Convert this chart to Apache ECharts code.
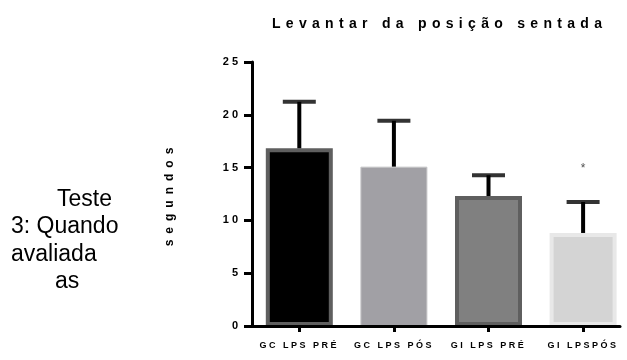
<!DOCTYPE html>
<html>
<head>
<meta charset="utf-8">
<script src="https://cdn.jsdelivr.net/npm/echarts@6/dist/echarts.min.js"></script>
<style>
html,body{margin:0;padding:0;background:#fff;}
#c{width:627px;height:360px;}
</style>
</head>
<body>
<div id="c"></div>
<script>
// ---- data ----
const categories = ['GC LPS PRÉ', 'GC LPS PÓS', 'GI LPS PRÉ', 'GI LPSPÓS'];
const means = [16.83, 15.09, 12.31, 8.81];
const errUpper = [4.40, 4.34, 1.97, 2.93];
const yTicks = [0, 5, 10, 15, 20, 25];
const significance = ['', '', '', '*'];
const sigValue = [null, null, null, 14.9];
const chartTitle = 'Levantar da posição sentada';
const yName = 'segundos';
const sideLines = ['Teste', '3: Quando', 'avaliada', 'as'];

// ---- styles ----
const barFill = ['#000000', '#a1a0a5', '#808080', '#d4d4d4'];
const barBorder = ['#5f5f5f', '#c4c4c6', '#5f5f5f', '#e8e8e8'];
const barBorderW = [4, 1, 4, 4];
const sidePos = [[57, 205], [11, 232.5], [11, 260], [55, 287]];

// letter spacing for the spaced-out texts (canvas letterSpacing)
const spacingMap = {};
spacingMap[chartTitle] = 5.3;
spacingMap[yName] = 6;
categories.forEach(c => spacingMap[c] = 2.5);
yTicks.forEach(t => spacingMap[String(t)] = 3);
(function () {
  const P = CanvasRenderingContext2D.prototype;
  const origFill = P.fillText;
  P.fillText = function (t, x, y, w) {
    const s = spacingMap[t];
    if (s !== undefined && 'letterSpacing' in this) {
      const prev = this.letterSpacing;
      this.letterSpacing = s + 'px';
      if (arguments.length > 3) origFill.call(this, t, x, y, w); else origFill.call(this, t, x, y);
      this.letterSpacing = prev;
      return;
    }
    return origFill.apply(this, arguments);
  };
})();

const catIdx = categories.map((c, i) => i);

const chart = echarts.init(document.getElementById('c'), null, {renderer: 'canvas', width: 627, height: 360});

const errorStems = means.map((m, i) => ({
  type: 'line', z: 3, clip: false, symbol: 'none', silent: true,
  lineStyle: {color: '#000', width: 4},
  data: [[i, m], [i, m + errUpper[i]]]
}));

const option = {
  animation: false,
  backgroundColor: '#fff',
  title: {
    text: chartTitle,
    left: 272, top: 17, padding: 0,
    textStyle: {fontFamily: 'Liberation Sans', fontWeight: 'bold', fontSize: 14, color: '#000'}
  },
  grid: {left: 252, right: 7, top: 62, bottom: 34},
  xAxis: {
    type: 'value', min: -0.5, max: 3.39, z: 10,
    splitLine: {show: false},
    axisLine: {show: true, onZero: false, lineStyle: {color: '#000', width: 3}},
    axisTick: {show: true, customValues: catIdx, length: 6, lineStyle: {color: '#000', width: 3}},
    axisLabel: {
      customValues: catIdx, margin: 15,
      formatter: v => categories[Math.round(v)] || '',
      fontFamily: 'Liberation Sans', fontWeight: 'bold', fontSize: 9, color: '#000'
    }
  },
  yAxis: {
    type: 'value', min: yTicks[0], max: yTicks[yTicks.length - 1], interval: yTicks[1] - yTicks[0], z: 10,
    name: yName, nameLocation: 'middle', nameGap: 76, nameRotate: 90,
    nameTextStyle: {fontFamily: 'Liberation Sans', fontWeight: 'bold', fontSize: 12, color: '#000'},
    splitLine: {show: false},
    axisLine: {show: true, onZero: false, lineStyle: {color: '#000', width: 3}},
    axisTick: {show: true, length: 8, lineStyle: {color: '#000', width: 3}},
    axisLabel: {margin: 11, fontFamily: 'Liberation Sans', fontWeight: 'bold', fontSize: 11, color: '#000'}
  },
  graphic: sideLines.map((t, i) => ({
    type: 'text', left: sidePos[i][0], top: sidePos[i][1] - 17,
    style: {text: t, font: '23px "Liberation Sans"', fill: '#000'}
  })),
  series: [
    {
      type: 'bar', barWidth: 67, z: 2,
      data: means.map((m, i) => ({
        value: [i, m],
        itemStyle: {color: barFill[i], borderColor: barBorder[i], borderWidth: barBorderW[i]}
      }))
    },
    ...errorStems,
    {
      type: 'scatter', z: 4, clip: false, silent: true,
      symbol: 'rect', symbolSize: [33, 4],
      itemStyle: {color: '#000'},
      data: means.map((m, i) => [i, m + errUpper[i]])
    },
    {
      type: 'scatter', symbolSize: 0, z: 5, silent: true,
      data: sigValue.map((v, i) => v === null ? null : {value: [i, v], name: significance[i]}).filter(d => d),
      label: {show: true, position: 'inside', formatter: p => p.name,
        fontFamily: 'Liberation Sans', fontSize: 12, color: '#222'}
    }
  ]
};
chart.setOption(option);
</script>
</body>
</html>
